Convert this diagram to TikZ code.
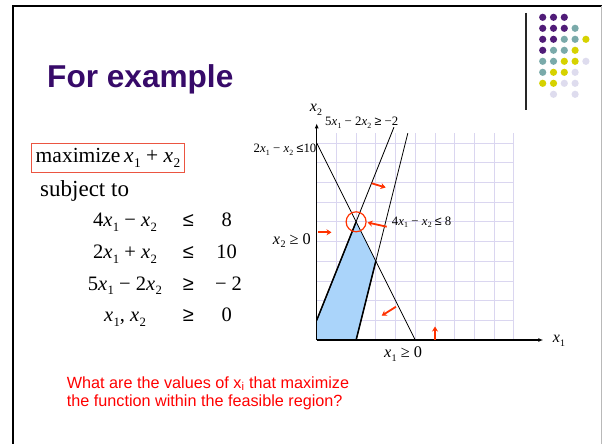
\documentclass[tikz,border=0pt]{standalone}
\usepackage{fontspec}
\usepackage{graphicx}
\setmainfont{Liberation Serif}
\newfontfamily\arialf{Liberation Sans}
\usetikzlibrary{arrows.meta}
\definecolor{titlepurple}{RGB}{55,10,105}
\definecolor{dotP}{RGB}{80,28,120}
\definecolor{dotT}{RGB}{122,170,170}
\definecolor{dotY}{RGB}{214,210,0}
\definecolor{dotL}{RGB}{222,220,238}
\definecolor{gridc}{RGB}{218,214,240}
\definecolor{feas}{RGB}{170,212,250}
\definecolor{boxred}{RGB}{235,85,65}
\definecolor{qred}{RGB}{255,0,0}
\definecolor{arrred}{RGB}{255,50,0}
\newcommand\xs[1]{\textit{x}\kern0.02em\raisebox{-0.22em}{\scalebox{0.62}{#1}}}
\newcommand\fs[1]{\fontsize{#1}{#1}\selectfont}
\newcommand\rel[1]{{\arialf\fs{20}#1}}
\begin{document}
\begin{tikzpicture}[x=1pt,y=-1pt,
  dotc/.style={fill=#1, draw=none},
  redarr/.style={arrred, line width=1.8pt, -{Stealth[length=5pt,width=6pt]}},
  glabel/.style={inner sep=0pt, font=\fs{12.8}},
  blabel/.style={inner sep=0pt, font=\fs{16.3}},
  txt/.style={inner sep=0pt, font=\fs{20.5}},
  fline/.style={black, line width=0.8pt},
  axis/.style={black, line width=1.4pt, -{Latex[length=5pt,width=4pt]}}]
\useasboundingbox (0,0) rectangle (602,444);
\fill[white] (0,0) rectangle (602,444);
% slide frame
\draw[line width=2pt] (12.5,444) -- (12.5,6) -- (602,6);
\draw[gray!55, line width=1pt] (601,6) -- (601,444);
\draw[black!85, line width=1.2pt] (526,13) -- (526,110);
% dots
\foreach \r/\c/\col in {1/1/dotP,1/2/dotP,1/3/dotP,
  2/1/dotP,2/2/dotP,2/3/dotP,2/4/dotT,
  3/1/dotP,3/2/dotP,3/3/dotT,3/4/dotT,3/5/dotY,
  4/1/dotP,4/2/dotT,4/3/dotT,4/4/dotY,
  5/1/dotT,5/2/dotT,5/3/dotY,5/4/dotY,5/5/dotL,
  6/1/dotT,6/2/dotY,6/3/dotY,6/4/dotL,
  7/1/dotY,7/2/dotY,7/3/dotL,7/4/dotL,
  8/2/dotL,8/4/dotL}
  \fill[dotc=\col] ({542.7+10.8*(\c-1)},{17.3+11*(\r-1)}) circle (3.6);
% title
\node[anchor=base west, inner sep=0pt, font=\arialf\bfseries\fs{31.6}, text=titlepurple] (title) at (47,87.3) {For example};
% objective box
\node[draw=boxred, line width=1pt, minimum width=152.6pt, minimum height=29.4pt, inner sep=0pt, font=\fs{21.5}] (obj) at (108,158) {maximize\,\xs{1} + \xs{2}};
\node[txt, anchor=base west, font=\fs{23}] (subj) at (40,196.7) {subject to};
% constraints
\node[txt, anchor=base] (c1l) at (125,226.7) {4\xs{1} − \xs{2}};
\node[txt, anchor=base] (c1r) at (188.3,226.7) {\rel{≤}};
\node[txt, anchor=base] (c1v) at (226.7,226.7) {8};
\node[txt, anchor=base] (c2l) at (125,258.5) {2\xs{1} + \xs{2}};
\node[txt, anchor=base] (c2r) at (188.3,258.5) {\rel{≤}};
\node[txt, anchor=base] (c2v) at (226.7,258.5) {10};
\node[txt, anchor=base] (c3l) at (125,290.2) {5\xs{1} − 2\xs{2}};
\node[txt, anchor=base] (c3r) at (188.3,290.2) {\rel{≥}};
\node[txt, anchor=base] (c3v) at (228.5,290.2) {− 2};
\node[txt, anchor=base] (c4l) at (125,321.7) {\xs{1}, \xs{2}};
\node[txt, anchor=base] (c4r) at (188.3,321.7) {\rel{≥}};
\node[txt, anchor=base] (c4v) at (226.7,321.7) {0};
% question
\node[anchor=base west, inner sep=0pt, font=\arialf\fs{16.2}, text=qred] (q1) at (66.7,388.3) {What are the values of x\textsubscript{i} that maximize};
\node[anchor=base west, inner sep=0pt, font=\arialf\fs{16.2}, text=qred] (q2) at (66.7,406.7) {the function within the feasible region?};
% graph
\begin{scope}[shift={(316.7,340)}, x=19.7pt, y=19.7pt]
  \foreach \k in {1,...,10} {
    \draw[gridc, line width=0.8pt] (\k,0) -- (\k,10.5);
    \draw[gridc, line width=0.8pt] (0,\k) -- (10,\k);
  }
  \fill[feas] (0,0) -- (2,0) -- (3,4) -- (2,6) -- (0,1) -- cycle;
  \coordinate (O) at (0,0);
  \coordinate (A) at (0,10);
  \coordinate (B) at (5,0);
  \coordinate (C) at (2,0);
  \coordinate (Ct) at (4.625,10.5);
  \coordinate (D) at (0,1);
  \coordinate (Dt) at (3.92,10.8);
  \coordinate (P) at (2,6);
  \draw[fline] (A) -- (B);
  \draw[fline] (C) -- (Ct);
  \draw[fline] (D) -- (Dt);
  \draw[black, line width=1.5pt] (D) -- (P);
  \draw[black, line width=1.5pt] (C) -- (3,4);
  \coordinate (xend) at (11.5,0);
  \coordinate (yend) at (0,11.0);
  \draw[axis] (O) -- (xend);
  \draw[axis] (O) -- (yend);
  \draw[arrred, line width=1.2pt] (P) circle (10pt);
\end{scope}
% red arrows
\coordinate (a1s) at (371.7,183.3); \coordinate (a1e) at (385.7,187.5);
\coordinate (a2s) at (386.7,226.7); \coordinate (a2e) at (367.5,222.5);
\coordinate (a3s) at (318.3,232.3); \coordinate (a3e) at (331.5,232.3);
\coordinate (a4s) at (396,306.7); \coordinate (a4e) at (381.7,315.7);
\coordinate (a5s) at (435,340); \coordinate (a5e) at (435,326.5);
\draw[redarr] (a1s) -- (a1e);
\draw[redarr] (a2s) -- (a2e);
\draw[redarr] (a3s) -- (a3e);
\draw[redarr] (a4s) -- (a4e);
\draw[redarr] (a5s) -- (a5e);
% graph labels
\node[inner sep=0pt, font=\fs{16}] (x2lab) at (316,110) {\xs{2}};
\node[inner sep=0pt, font=\fs{16}] (x1lab) at (559,341) {\xs{1}};
\node[glabel, anchor=west] (l5) at (325,123) {5\xs{1} − 2\xs{2} \rel{\fs{12.5}≥} −2};
\node[glabel, anchor=east] (l2) at (316.5,150) {2\xs{1} − \xs{2} \rel{\fs{12.5}≤}10};
\node[glabel, anchor=west] (l4) at (391.7,222.3) {4\xs{1} − \xs{2} \rel{\fs{12.5}≤} 8};
\node[blabel, anchor=east] (lx2) at (311,240.7) {\xs{2} ≥ 0};
\node[blabel] (lx1) at (403,354) {\xs{1} ≥ 0};
\end{tikzpicture}
\end{document}
